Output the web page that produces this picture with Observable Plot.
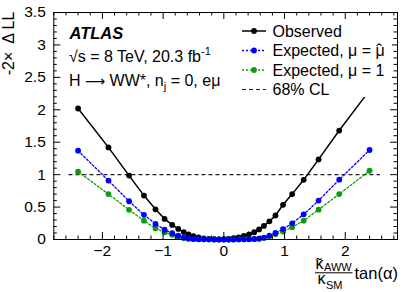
<!DOCTYPE html>
<html><head><meta charset="utf-8">
<script src="https://cdn.jsdelivr.net/npm/d3@7"></script>
<script src="https://cdn.jsdelivr.net/npm/@observablehq/plot@0.6"></script>
<style>body{margin:0;background:#fff} #chart{width:407px;height:292px}</style>
</head><body><div id="chart"></div>
<script>
// ---- data ----
const tanAlpha = [-2.40,-1.90,-1.56,-1.315,-1.125,-0.975,-0.85,-0.75,-0.66,-0.58,-0.50,-0.415,-0.33,-0.245,-0.16,-0.08,0,0.08,0.16,0.245,0.33,0.415,0.50,0.58,0.66,0.75,0.85,0.975,1.125,1.315,1.56,1.90,2.40];
const observed = [2.02,1.42,0.985,0.677,0.466,0.318,0.225,0.163,0.115,0.078,0.052,0.032,0.018,0.009,0.004,0.003,0.005,0.011,0.02,0.034,0.054,0.08,0.112,0.155,0.21,0.28,0.37,0.535,0.70,0.92,1.235,1.68,2.30];
const expectedMuHat = [1.37,0.908,0.59,0.38,0.24,0.15,0.097,0.058,0.03,0.016,0.009,0.005,0.003,0.002,0.001,0,0,0,0.001,0.002,0.003,0.005,0.008,0.014,0.03,0.06,0.10,0.16,0.25,0.388,0.60,0.922,1.38];
const expectedMu1 = [1.046,0.70,0.457,0.29,0.17,0.11,0.072,0.042,0.02,0.01,0.006,0.003,0.002,0.001,0,0,0,0,0,0.001,0.002,0.003,0.005,0.01,0.022,0.045,0.08,0.123,0.19,0.29,0.46,0.70,1.06];
const clLevel = 1;
const clRange = [-2.55, 2.58];
const xTicks = [-2,-1,0,1,2];
const xTickLabels = ["\u22122","\u22121","0","1","2"];
const yTicks = [0,0.5,1,1.5,2,2.5,3,3.5];
const yTickLabels = ["0","0.5","1","1.5","2","2.5","3","3.5"];
const legendLabels = ["Observed","Expected, \u03bc = \u03bc","Expected, \u03bc = 1","68% CL"];

// ---- layout / style ----
const W = 407, H = 292;
const mL = 53.3, mR = 10, mT = 12, mB = 53;
const frameW = W - mL - mR, frameH = H - mT - mB;
const FONT = "'Liberation Sans', Arial, Helvetica, sans-serif";
const GREEN = "#119a11", BLUE = "#0000ff";

const rows = (ys) => tanAlpha.map((x, i) => ({x, y: ys[i]}));
const obs = rows(observed), muhat = rows(expectedMuHat), mu1 = rows(expectedMu1);
const xMinor = d3.range(-28, 29, 2).map(d => d / 10).filter(d => !xTicks.includes(d));
const yMinor = d3.range(0, 36).map(d => d / 10).filter(d => !yTicks.includes(d));
const MAJ = 7, MIN = 3.5;

const chart = Plot.plot({
  width: W, height: H,
  marginLeft: mL, marginRight: mR, marginTop: mT, marginBottom: mB,
  style: {fontFamily: FONT, fontSize: "15.5px", color: "black", background: "white", overflow: "visible"},
  x: {domain: [-2.8, 2.86], axis: null},
  y: {domain: [0, 3.5], axis: null},
  marks: [
    Plot.ruleY([clLevel], {x1: clRange[0], x2: clRange[1], stroke: "#222", strokeWidth: 1.2, strokeDasharray: "4,3"}),
    Plot.line(obs, {x: "x", y: "y", stroke: "black", strokeWidth: 1.5}),
    Plot.dot(obs, {x: "x", y: "y", r: 2.9, fill: "black"}),
    Plot.line(mu1, {x: "x", y: "y", stroke: GREEN, strokeWidth: 1.3, strokeDasharray: "2,2"}),
    Plot.dot(mu1, {x: "x", y: "y", r: 2.9, fill: GREEN}),
    Plot.line(muhat, {x: "x", y: "y", stroke: BLUE, strokeWidth: 1.3, strokeDasharray: "2,2"}),
    Plot.dot(muhat, {x: "x", y: "y", r: 2.9, fill: BLUE}),
    Plot.frame({stroke: "black", strokeWidth: 1}),
    // inward ticks on all four sides
    Plot.ruleX(xTicks, {x: d => d, insetTop: frameH - MAJ, stroke: "black"}),
    Plot.ruleX(xTicks, {x: d => d, insetBottom: frameH - MAJ, stroke: "black"}),
    Plot.ruleX(xMinor, {x: d => d, insetTop: frameH - MIN, stroke: "black"}),
    Plot.ruleX(xMinor, {x: d => d, insetBottom: frameH - MIN, stroke: "black"}),
    Plot.ruleY(yTicks, {y: d => d, insetRight: frameW - MAJ, stroke: "black"}),
    Plot.ruleY(yTicks, {y: d => d, insetLeft: frameW - MAJ, stroke: "black"}),
    Plot.ruleY(yMinor, {y: d => d, insetRight: frameW - MIN, stroke: "black"}),
    Plot.ruleY(yMinor, {y: d => d, insetLeft: frameW - MIN, stroke: "black"}),
    Plot.axisX(xTicks, {anchor: "bottom", tickSize: 0, tickPadding: 5, fontSize: 15.5, label: null,
      tickFormat: d => xTickLabels[xTicks.indexOf(d)]}),
    Plot.axisY(yTicks, {anchor: "left", tickSize: 0, tickPadding: 8, fontSize: 15.5, label: null,
      tickFormat: d => yTickLabels[yTicks.indexOf(d)]})
  ]
});
document.getElementById("chart").appendChild(chart);

// ---- annotations, legend, axis titles ----
const svg = d3.select(chart);
const g = svg.append("g").attr("font-family", FONT).attr("fill", "black").attr("text-anchor", "start");

// ATLAS label block
g.append("text").attr("x", 69.5).attr("y", 39.3).attr("font-size", 16.5)
  .attr("font-weight", "bold").attr("font-style", "italic").text("ATLAS");
const t2 = g.append("text").attr("x", 69).attr("y", 61.7).attr("font-size", 16);
t2.append("tspan").text("\u221as = 8 TeV, 20.3 fb");
t2.append("tspan").attr("font-size", 11).attr("dy", -6.5).text("-1");
const t3 = g.append("text").attr("x", 69).attr("y", 86).attr("font-size", 16);
t3.append("tspan").text("H ");
t3.append("tspan").attr("font-family", "'DejaVu Sans', sans-serif").attr("font-size", 14).text("\u27f6");
t3.append("tspan").text(" WW*, n");
t3.append("tspan").attr("font-size", 11).attr("dy", 4).text("j");
t3.append("tspan").attr("dy", -4).text(" = 0, e\u03bc");

// legend
const lg = g.append("g");
lg.append("rect").attr("x", 236).attr("y", 19).attr("width", 156).attr("height", 78).attr("fill", "white");
const rowY = [31, 50.5, 70, 89.5];
const styles = [
  {stroke: "black", dash: null, w: 1.5, dot: true},
  {stroke: BLUE, dash: "2,2", w: 1.3, dot: true},
  {stroke: GREEN, dash: "2,2", w: 1.3, dot: true},
  {stroke: "#222", dash: "4,3", w: 1.2, dot: false}
];
styles.forEach((s, i) => {
  const cy = rowY[i];
  lg.append("line").attr("x1", 242).attr("x2", 266).attr("y1", cy).attr("y2", cy)
    .attr("stroke", s.stroke).attr("stroke-width", s.w).attr("stroke-dasharray", s.dash);
  if (s.dot) lg.append("circle").attr("cx", 254).attr("cy", cy).attr("r", 2.9).attr("fill", s.stroke);
  const t = lg.append("text").attr("x", 272.5).attr("y", cy + 5.7).attr("font-size", 16).text(legendLabels[i]);
  if (i === 1) t.append("tspan").attr("dx", "-0.5em").attr("font-size", 17).text("\u02c6");
});

// y axis title
g.append("text").attr("transform", "translate(13.5,11.7) rotate(-90)")
  .attr("text-anchor", "end").attr("font-size", 16).text("-2\u00d7\u2002\u0394 LL");

// x axis title: (kappa~_AWW / kappa_SM) tan(alpha)
g.append("text").attr("x", 315.5).attr("y", 268.5).attr("font-size", 16).text("\u03ba");
g.append("text").attr("x", 316.2).attr("y", 270).attr("font-size", 16).text("\u02dc");
g.append("text").attr("x", 324).attr("y", 270.8).attr("font-size", 11).text("AWW");
g.append("line").attr("x1", 315).attr("x2", 352.5).attr("y1", 272.8).attr("y2", 272.8)
  .attr("stroke", "black").attr("stroke-width", 1);
g.append("text").attr("x", 317.5).attr("y", 283.5).attr("font-size", 16).text("\u03ba");
g.append("text").attr("x", 326).attr("y", 288.5).attr("font-size", 11).text("SM");
g.append("text").attr("x", 398).attr("y", 278.5).attr("text-anchor", "end").attr("font-size", 16.5).text("tan(\u03b1)");
</script></body></html>
